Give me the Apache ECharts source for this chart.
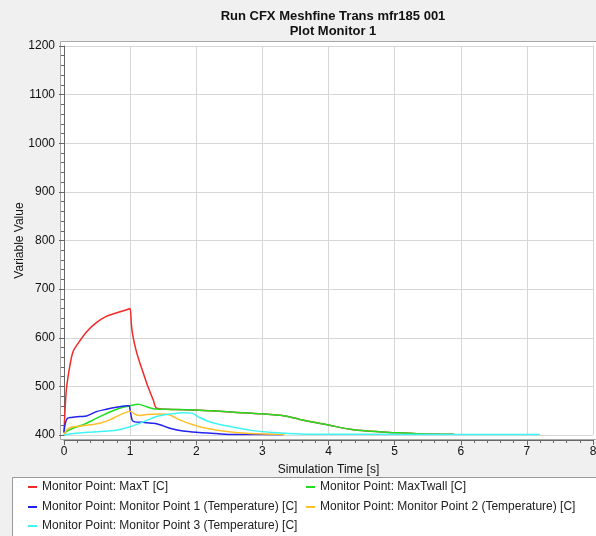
<!DOCTYPE html>
<html><head><meta charset="utf-8">
<script src="https://cdn.jsdelivr.net/npm/echarts@6/dist/echarts.min.js"></script>
<style>html,body{margin:0;padding:0;background:#f0f0f0;}#c{width:596px;height:536px;}</style>
</head><body><div id="c"></div>
<script>
var seriesNames = ['Monitor Point: MaxT [C]','Monitor Point: MaxTwall [C]','Monitor Point: Monitor Point 1 (Temperature) [C]','Monitor Point: Monitor Point 2 (Temperature) [C]','Monitor Point: Monitor Point 3 (Temperature) [C]'];
var xTicks = [0,1,2,3,4,5,6,7,8];
var yTicks = [400,500,600,700,800,900,1000,1100,1200];

var tWall = [0,0.035,0.136,0.29,0.44,0.59,0.74,0.89,1.0,1.12,1.25,1.35,1.55,2.05,2.56,3.0,3.32,3.57,3.82,4.0,4.33,4.58,5.0,5.34,5.9];
var vWall = [400,407,414,421,431,441,450,457,460,463,458,454,453,451,447,443.5,439.5,432,425,420.5,411.6,408,404.8,402.7,401.4];

var tMaxT = [0,0.035,0.086,0.136,0.21,0.34,0.49,0.64,0.79,0.98,1.0,1.02,1.04,1.09,1.14,1.2,1.27,1.35,1.4,1.55,2.05,2.56,3.0,3.32,3.57,3.82,4.0,4.33,4.58,5.0,5.34,5.9];
var vMaxT = [405,492,540,571,588,612,631,644,651,659,660,626,605,574,551,527,499,472,455,453,451,447,443.5,439.5,432,425,420.5,411.6,408,404.8,402.7,401.4];

var tMP1 = [0,0.02,0.05,0.11,0.24,0.34,0.49,0.64,0.79,0.98,1.0,1.03,1.07,1.2,1.35,1.45,1.6,1.8,2.05,2.3,2.56,3.31];
var vMP1 = [405,424,434,436,438,439,448,453,457,460,451,431,427,426,424,421,414,408,405,403,401,400.7];

var tMP2 = [0,0.035,0.11,0.24,0.39,0.54,0.69,0.84,0.97,1.0,1.07,1.14,1.25,1.45,1.6,1.75,1.95,2.15,2.46,2.81,3.34];
var vMP2 = [400,410,416,418,421,424,431,441,448,449,443,440,442,443,441,431,421,414,407,403,401];

var tMP3 = [0,0.14,0.54,0.79,1.0,1.2,1.4,1.6,1.8,1.93,2.05,2.25,2.56,2.86,3.16,3.57,4.5,6.0,7.2];
var vMP3 = [400,403,407,410,417,427,438,443,446,445,436,425,416,409,405,402,401.3,401.2,401.2];

var colors = ['#f22a2a','#22dd22','#2222ee','#ffbf2a','#3ef4f4'];

function pairs(t,v){ return t.map(function(x,i){ return [x, v[i]]; }); }
var seriesData = [pairs(tMaxT,vMaxT), pairs(tWall,vWall), pairs(tMP1,vMP1), pairs(tMP2,vMP2), pairs(tMP3,vMP3)];

var font = 'Liberation Sans';
var chart = echarts.init(document.getElementById('c'));
var legendPos = [[28,481],[306,481],[28,501],[306,501],[28,520]];
var legends = seriesNames.map(function(n,i){
  return {data:[n], left:legendPos[i][0], top:legendPos[i][1], orient:'horizontal', padding:0,
    icon:'rect', itemWidth:9, itemHeight:2, itemGap:0,
    textStyle:{fontFamily:font, fontSize:12, color:'#222'}, selectedMode:false};
});
chart.setOption({
  backgroundColor:'#f0f0f0',
  animation:false,
  title:{text:'Run CFX Meshfine Trans mfr185 001\nPlot Monitor 1', left:328, textAlign:'center', top:4,
    textStyle:{fontFamily:font, fontSize:13, fontWeight:'bold', color:'#111', lineHeight:15}},
  graphic:[
    {type:'rect', z:-1, shape:{x:60.5,y:41.5,width:540,height:398}, style:{fill:'#fff', stroke:'#a8a8a8', lineWidth:1}},
    {type:'rect', z:-1, shape:{x:12.5,y:477.5,width:600,height:70}, style:{fill:'#fff', stroke:'#999', lineWidth:1}}
  ],
  legend: legends,
  grid:{left:64, right:3, top:46, bottom:101, containLabel:false, outerBoundsMode:'none'},
  xAxis:{type:'value', min:xTicks[0], max:xTicks[xTicks.length-1], interval:1, offset:5,
    name:'Simulation Time [s]', nameLocation:'middle', nameGap:24, nameMoveOverlap:false,
    nameTextStyle:{fontFamily:font, fontSize:12, color:'#111'},
    axisLine:{show:true, lineStyle:{color:'#666'}},
    axisTick:{show:true, length:5, lineStyle:{color:'#666'}},
    minorTick:{show:true, splitNumber:5, length:3, lineStyle:{color:'#666'}},
    axisLabel:{fontFamily:font, fontSize:12, color:'#111', margin:6},
    splitLine:{show:true, lineStyle:{color:'#d6d6d6'}}},
  yAxis:{type:'value', min:yTicks[0], max:yTicks[yTicks.length-1], interval:100, offset:6,
    name:'Variable Value', nameLocation:'middle', nameGap:32, nameRotate:90, nameMoveOverlap:false,
    nameTextStyle:{fontFamily:font, fontSize:12, color:'#111'},
    axisLine:{show:true, lineStyle:{color:'#666'}},
    axisTick:{show:true, length:5, lineStyle:{color:'#666'}},
    minorTick:{show:true, splitNumber:5, length:3, lineStyle:{color:'#666'}},
    axisLabel:{fontFamily:font, fontSize:12, color:'#111', margin:3, formatter:function(v){return String(v);}},
    splitLine:{show:true, lineStyle:{color:'#d6d6d6'}}},
  series: seriesNames.map(function(n,i){
    return {name:n, type:'line', data:seriesData[i], showSymbol:false, symbol:'none', smooth:0.3,
      lineStyle:{width:1.5, color:colors[i]}, itemStyle:{color:colors[i]}};
  })
});
</script></body></html>
